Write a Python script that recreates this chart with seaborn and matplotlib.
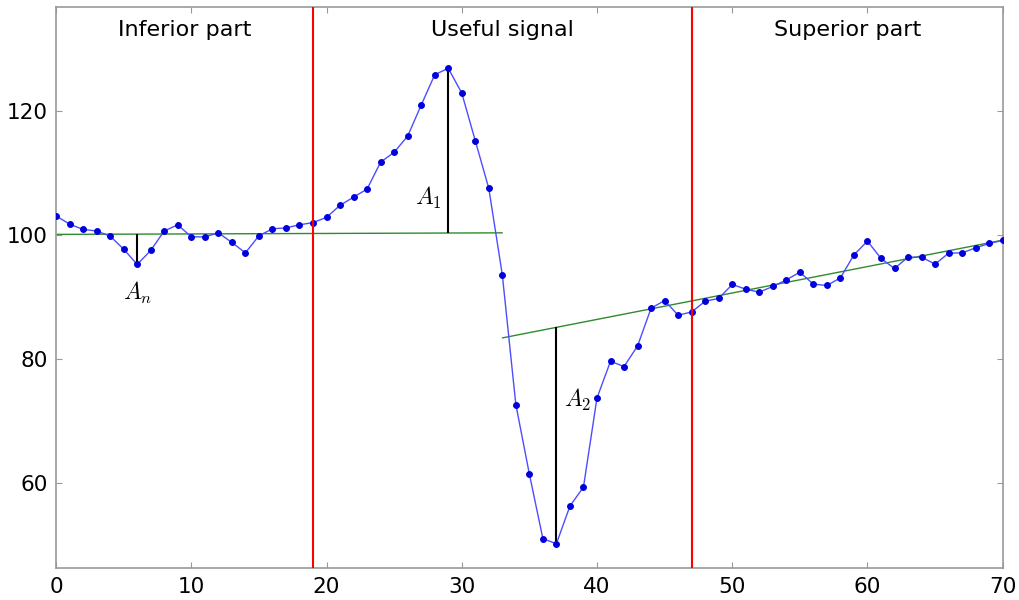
import numpy as np
import pandas as pd
import matplotlib
matplotlib.use("Agg")
import matplotlib.pyplot as plt
import seaborn as sns

# ---- data ----
x_vals = list(range(71))
signal = [103.05, 101.7, 100.85, 100.6, 99.77, 97.67, 95.2, 97.46, 100.6, 101.6,
          99.65, 99.65, 100.3, 98.75, 97.07, 99.82, 100.95, 101.1, 101.6, 101.95,
          102.8, 104.74, 106.06, 107.36, 111.7, 113.3, 115.9, 120.9, 125.8, 126.85,
          122.86, 115.16, 107.47, 93.52, 72.59, 61.39, 50.95, 50.15, 56.22, 59.29,
          73.66, 79.58, 78.73, 82.05, 88.14, 89.38, 87.01, 87.54, 89.27, 89.72,
          91.97, 91.21, 90.73, 91.65, 92.71, 93.95, 92.02, 91.81, 93.03, 96.75,
          98.96, 96.17, 94.55, 96.38, 96.38, 95.25, 97.02, 97.07, 97.88, 98.59,
          99.07]

# baselines (green fits)
base1_x = [0, 33]
base1_y = [100.05, 100.3]
base2_x = [33, 70]
base2_y = [83.35, 99.12]

# section boundaries and labels
boundaries = [19, 47]
section_labels = ["Inferior part", "Useful signal", "Superior part"]
section_x = [9.5, 33, 58.5]
section_y = 133.0

# amplitude markers: x, baseline value, peak value, label, label position
amp_x = [6, 29, 37]
amp_base = [100.1, 100.2, 85.05]
amp_peak = [95.2, 126.85, 50.15]
amp_labels = [r"$A_n$", r"$A_1$", r"$A_2$"]
amp_label_x = [6.0, 27.5, 38.6]
amp_label_y = [90.6, 105.9, 73.3]

xticks = [0, 10, 20, 30, 40, 50, 60, 70]
yticks = [60, 80, 100, 120]

# ---- plot ----
sns.set_style("white")
plt.rcParams["mathtext.fontset"] = "cm"
plt.rcParams["font.family"] = ["DejaVu Sans"]
plt.rcParams["text.color"] = "black"
plt.rcParams["xtick.labelcolor"] = "black"
plt.rcParams["ytick.labelcolor"] = "black"

fig = plt.figure(figsize=(10.19, 6.0), dpi=100)
ax = fig.add_axes([0.055, 0.053, 0.929, 0.935])

df = pd.DataFrame({"x": x_vals, "y": signal})
sns.lineplot(data=df, x="x", y="y", ax=ax, color="#4d4dff", linewidth=1.0,
             marker="o", markersize=4.2, markerfacecolor="#0000dd",
             markeredgecolor="#0000dd", zorder=3)

sns.lineplot(x=base1_x, y=base1_y, ax=ax, color="#2e8b2e", linewidth=1.0, zorder=2)
sns.lineplot(x=base2_x, y=base2_y, ax=ax, color="#2e8b2e", linewidth=1.0, zorder=2)

for b in boundaries:
    ax.axvline(b, color="red", linewidth=1.5, zorder=4)

ax.vlines(amp_x, amp_base, amp_peak, colors="black", linewidth=1.5, zorder=2)
for lx, ly, lab in zip(amp_label_x, amp_label_y, amp_labels):
    ax.text(lx, ly, lab, fontsize=17, ha="center", va="center", color="black")

for sx, lab in zip(section_x, section_labels):
    ax.text(sx, section_y, lab, fontsize=16, ha="center", va="center", color="black")

ax.set_xlim(0, 70)
ax.set_ylim(46.2, 136.7)
ax.set_xticks(xticks)
ax.set_yticks(yticks)
ax.tick_params(axis="both", labelsize=15.5, direction="in", length=4,
               color="#999999", labelcolor="black",
               top=True, right=True, bottom=True, left=True, pad=6)
ax.set_xlabel("")
ax.set_ylabel("")
for s in ax.spines.values():
    s.set_color("#999999")
    s.set_linewidth(1.2)

fig.savefig("out.png", dpi=100)
